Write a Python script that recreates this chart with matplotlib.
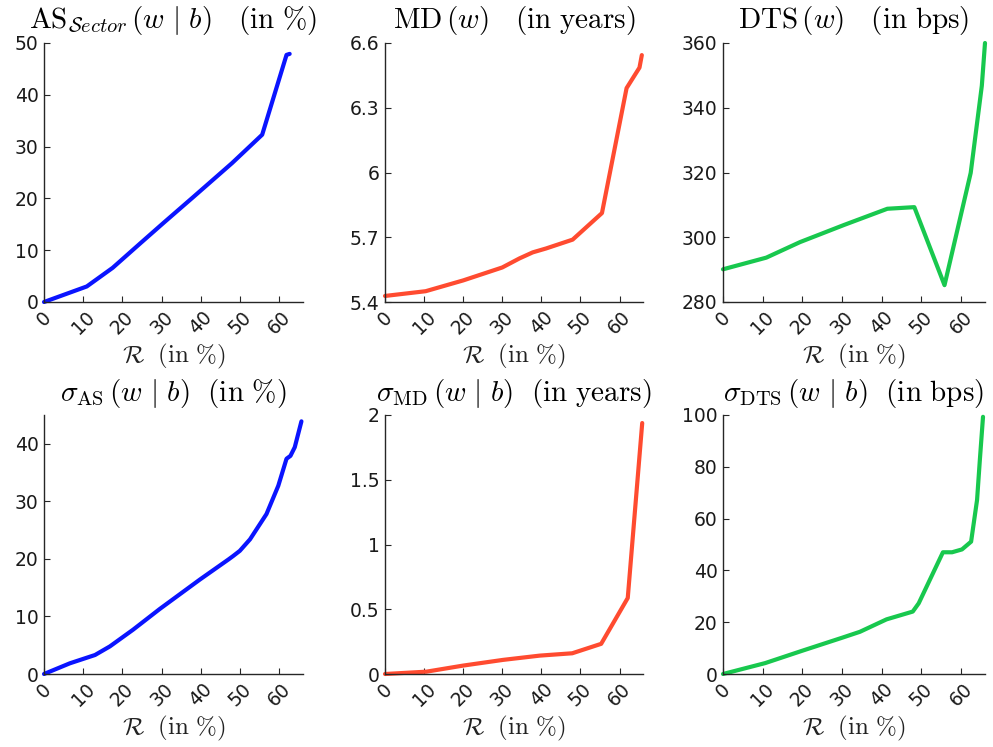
import matplotlib
matplotlib.use("Agg")
import matplotlib.pyplot as plt

plt.rcParams['mathtext.fontset'] = 'cm'
plt.rcParams['font.family'] = ['DejaVu Sans']

# ---- data ----
as_r = [0, 10.9, 17.5, 24.5, 30.5, 38.1, 47.9, 55.6, 61.8, 62.6]
as_v = [0, 3.0, 6.6, 11.3, 15.3, 20.3, 26.8, 32.3, 47.7, 47.9]

md_r = [0, 10.4, 20, 30, 34.4, 37.8, 41.2, 48.0, 55.5, 61.8, 65.1, 65.7]
md_v = [5.428, 5.45, 5.50, 5.56, 5.602, 5.630, 5.648, 5.689, 5.812, 6.391, 6.486, 6.544]

dts_r = [0, 10.9, 19.4, 30.5, 41.4, 48.2, 55.8, 62.4, 65.2, 66.0]
dts_v = [290.1, 293.7, 298.5, 303.8, 308.8, 309.3, 285.2, 319.9, 346.8, 360.0]

sas_r = [0, 6.6, 13.0, 16.8, 22.7, 29.5, 39.7, 47.0, 48.2, 49.9, 52.5, 56.7, 59.7, 61.8, 62.8, 63.9, 65.6]
sas_v = [0, 1.86, 3.3, 4.8, 7.7, 11.3, 16.4, 19.9, 20.5, 21.4, 23.4, 27.8, 32.7, 37.4, 37.9, 39.4, 43.9]

smd_r = [0, 10.6, 20, 30.2, 39.6, 47.9, 55.3, 62.1, 65.8]
smd_v = [0, 0.018, 0.065, 0.109, 0.142, 0.160, 0.233, 0.587, 1.938]

sdts_r = [0, 10.6, 20, 30, 34.5, 41.2, 47.8, 49.3, 55.4, 57.7, 60.2, 62.5, 64.0, 64.7, 65.5]
sdts_v = [0, 4.2, 9.0, 14.0, 16.3, 21.1, 24.1, 27.3, 47.0, 47.0, 48.1, 51.1, 67.2, 82.6, 99.3]

x_ticks = [0, 10, 20, 30, 40, 50, 60]
x_ticklabels = ['0', '10', '20', '30', '40', '50', '60']

titles = [
    r'$\mathrm{AS}_{\mathcal{S}ector}\,(w\ |\ b)\ \ \ (\mathrm{in}\ \%)$',
    r'$\mathrm{MD}\,(w)\ \ \ (\mathrm{in\ years})$',
    r'$\mathrm{DTS}\,(w)\ \ \ (\mathrm{in\ bps})$',
    r'$\sigma_{\mathrm{AS}}\,(w\ |\ b)\ \ (\mathrm{in}\ \%)$',
    r'$\sigma_{\mathrm{MD}}\,(w\ |\ b)\ \ (\mathrm{in\ years})$',
    r'$\sigma_{\mathrm{DTS}}\,(w\ |\ b)\ \ (\mathrm{in\ bps})$',
]
xlabel = r'$\mathcal{R}\ \ (\mathrm{in}\ \%)$'

blue = '#0a14ff'
red = '#ff4b30'
green = '#18c84e'

panels = [
    (as_r, as_v, blue, (0, 50), [0, 10, 20, 30, 40, 50], ['0', '10', '20', '30', '40', '50']),
    (md_r, md_v, red, (5.4, 6.6), [5.4, 5.7, 6.0, 6.3, 6.6], ['5.4', '5.7', '6', '6.3', '6.6']),
    (dts_r, dts_v, green, (280, 360), [280, 300, 320, 340, 360], ['280', '300', '320', '340', '360']),
    (sas_r, sas_v, blue, (0, 45), [0, 10, 20, 30, 40], ['0', '10', '20', '30', '40']),
    (smd_r, smd_v, red, (0, 2), [0, 0.5, 1, 1.5, 2], ['0', '0.5', '1', '1.5', '2']),
    (sdts_r, sdts_v, green, (0, 100), [0, 20, 40, 60, 80, 100], ['0', '20', '40', '60', '80', '100']),
]

W, H = 993, 747
fig = plt.figure(figsize=(W / 100, H / 100), dpi=100)

col_left = [44, 385, 723]
col_width = [259, 258, 262]
row_top = [43, 415]
row_bottom = [302, 674]

axis_col = '#262626'
for i, (xr, yv, c, ylim, yt, ytl) in enumerate(panels):
    r, cidx = divmod(i, 3)
    l = col_left[cidx] / W
    b = 1 - row_bottom[r] / H
    w = col_width[cidx] / W
    h = (row_bottom[r] - row_top[r]) / H
    ax = fig.add_axes([l, b, w, h])
    ax.plot(xr, yv, color=c, lw=3.0, solid_joinstyle='round', solid_capstyle='round', clip_on=False)
    ax.set_xlim(0, 66)
    ax.set_ylim(*ylim)
    ax.set_xticks(x_ticks)
    ax.set_xticklabels(x_ticklabels, rotation=45, ha='center', va='top')
    ax.set_yticks(yt)
    ax.set_yticklabels(ytl)
    for s in ['top', 'right']:
        ax.spines[s].set_visible(False)
    for s in ['left', 'bottom']:
        ax.spines[s].set_color(axis_col)
        ax.spines[s].set_linewidth(1.0)
    ax.tick_params(direction='in', length=4, width=0.8, colors=axis_col,
                   labelsize=13.5, labelcolor='#1a1a1a', pad=4)
    ax.set_title(titles[i], fontsize=21, pad=11 if r == 0 else 10, color='black')
    ax.set_xlabel(xlabel, fontsize=18, labelpad=3, color='#222222')

fig.savefig('out.png', dpi=100)
